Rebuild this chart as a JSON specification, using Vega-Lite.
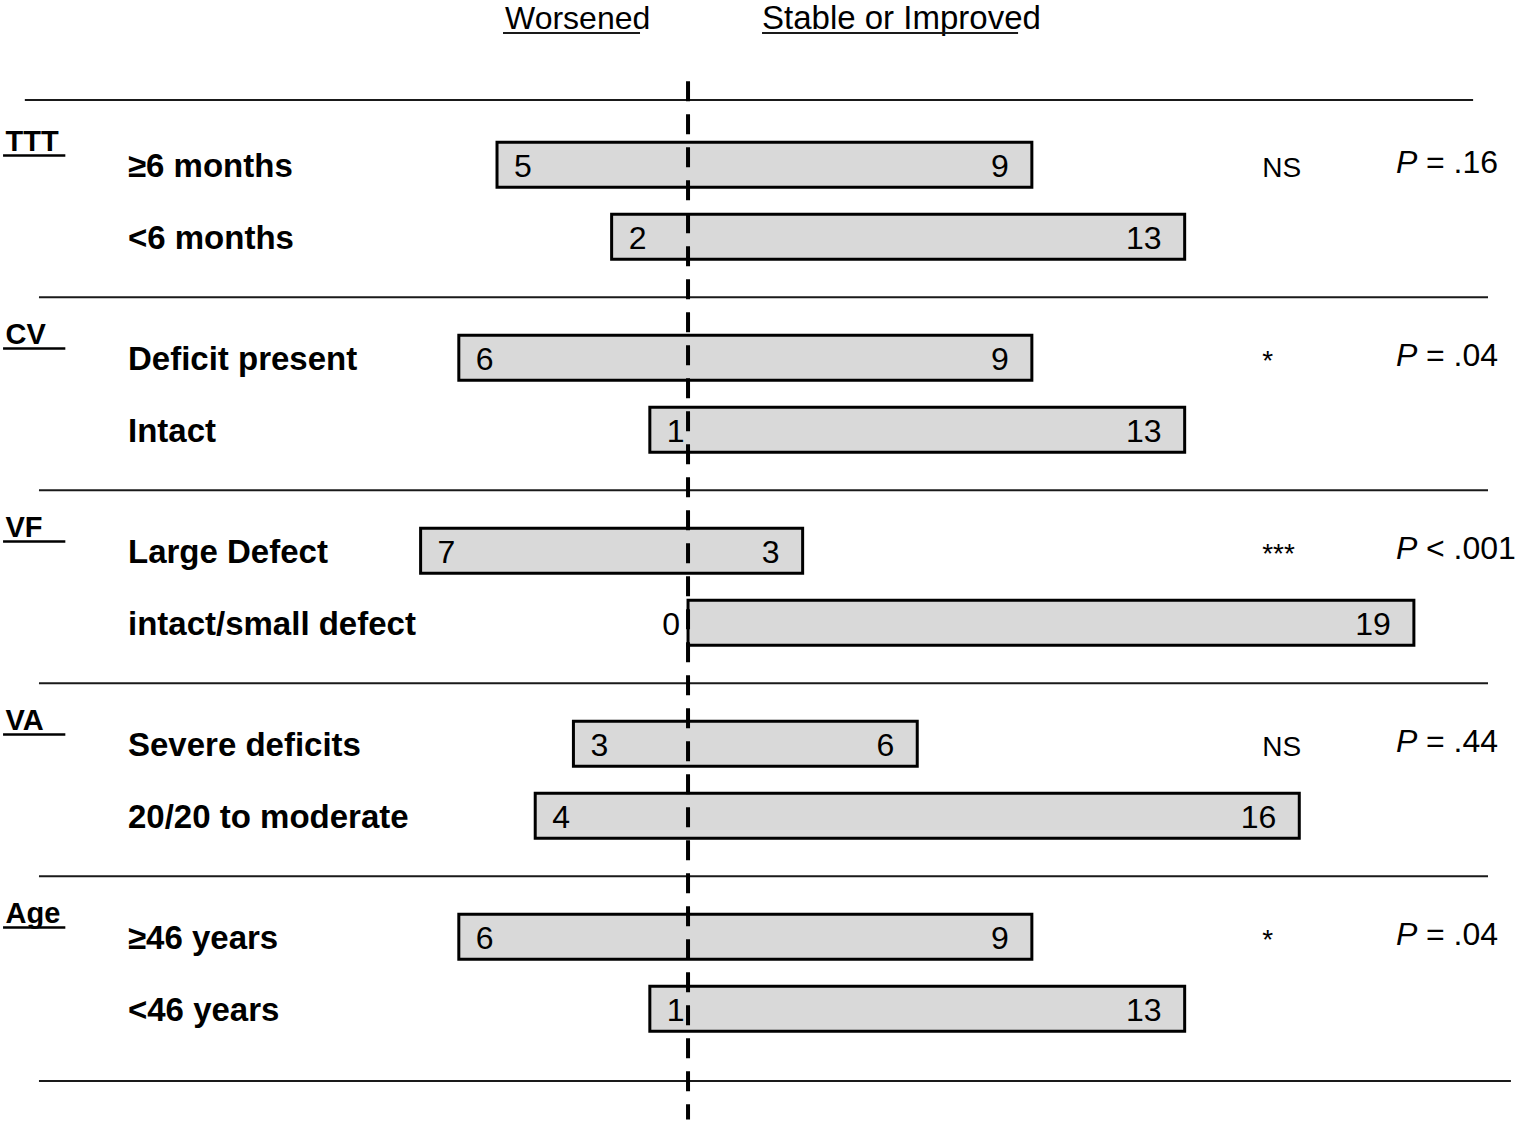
{
  "$schema": "https://vega.github.io/schema/vega-lite/v6.json",
  "width": 1522,
  "height": 1126,
  "autosize": {"type": "none"},
  "padding": 0,
  "background": "white",
  "config": {
    "view": {"stroke": null},
    "font": "Liberation Sans",
    "text": {"font": "Liberation Sans", "color": "black"}
  },
  "datasets": {
    "counts": [
      {"group": "TTT", "row": 1, "subgroup": "≥6 months", "worsened": 5, "improved": 9},
      {"group": "TTT", "row": 2, "subgroup": "<6 months", "worsened": 2, "improved": 13},
      {"group": "CV", "row": 1, "subgroup": "Deficit present", "worsened": 6, "improved": 9},
      {"group": "CV", "row": 2, "subgroup": "Intact", "worsened": 1, "improved": 13},
      {"group": "VF", "row": 1, "subgroup": "Large Defect", "worsened": 7, "improved": 3},
      {"group": "VF", "row": 2, "subgroup": "intact/small defect", "worsened": 0, "improved": 19},
      {"group": "VA", "row": 1, "subgroup": "Severe deficits", "worsened": 3, "improved": 6},
      {"group": "VA", "row": 2, "subgroup": "20/20 to moderate", "worsened": 4, "improved": 16},
      {"group": "Age", "row": 1, "subgroup": "≥46 years", "worsened": 6, "improved": 9},
      {"group": "Age", "row": 2, "subgroup": "<46 years", "worsened": 1, "improved": 13}
    ],
    "tests": [
      {"group": "TTT", "sig": "NS", "p": "= .16"},
      {"group": "CV", "sig": "*", "p": "= .04"},
      {"group": "VF", "sig": "***", "p": "< .001"},
      {"group": "VA", "sig": "NS", "p": "= .44"},
      {"group": "Age", "sig": "*", "p": "= .04"}
    ],
    "headers": [
      {"side": "Worsened"},
      {"side": "Stable or Improved"}
    ]
  },
  "layer": [
    {
      "data": {"name": "counts"},
      "transform": [{"calculate": "-datum.worsened", "as": "neg"}],
      "mark": {"type": "bar", "fill": "#d9d9d9", "stroke": "black", "strokeWidth": 3},
      "encoding": {
        "x": {
          "field": "neg",
          "type": "quantitative",
          "scale": {"domain": [-18.01, 21.83], "nice": false, "zero": false},
          "axis": null
        },
        "x2": {"field": "improved"},
        "y": {
          "field": "group",
          "type": "nominal",
          "sort": ["TTT", "CV", "VF", "VA", "Age"],
          "scale": {
            "domain": ["TTT", "CV", "VF", "VA", "Age"],
            "paddingInner": 0,
            "paddingOuter": 0.417,
            "align": 0.648
          },
          "axis": {
            "title": null,
            "domain": false,
            "ticks": false,
            "tickSize": 0,
            "grid": false,
            "labelAlign": "left",
            "labelPadding": -5,
            "labelOffset": -50,
            "labelBaseline": "alphabetic",
            "labelFont": "Liberation Sans",
            "labelFontSize": 29,
            "labelFontWeight": "bold",
            "labelColor": "black"
          }
        },
        "yOffset": {
          "field": "row",
          "type": "ordinal",
          "scale": {"paddingInner": 0.375, "paddingOuter": 0.528}
        }
      }
    },
    {
      "data": {"name": "tests"},
      "mark": {"type": "rule", "stroke": "black", "strokeWidth": 2.5},
      "encoding": {
        "y": {"field": "group", "type": "nominal", "bandPosition": 0.265},
        "x": {"datum": -17.93},
        "x2": {"datum": -16.3}
      }
    },
    {
      "data": {"name": "tests"},
      "transform": [{"filter": "datum.group !== 'TTT'"}],
      "mark": {"type": "rule", "stroke": "#1a1a1a", "strokeWidth": 2},
      "encoding": {
        "y": {"field": "group", "type": "nominal", "bandPosition": 0},
        "x": {"datum": -16.99},
        "x2": {"datum": 20.94}
      }
    },
    {
      "data": {"name": "tests"},
      "transform": [{"filter": "datum.group === 'TTT'"}],
      "mark": {"type": "rule", "stroke": "#1a1a1a", "strokeWidth": 2},
      "encoding": {
        "y": {"field": "group", "type": "nominal", "bandPosition": -0.022},
        "x": {"datum": -17.36},
        "x2": {"datum": 20.55}
      }
    },
    {
      "data": {"name": "tests"},
      "transform": [{"filter": "datum.group === 'Age'"}],
      "mark": {"type": "rule", "stroke": "#1a1a1a", "strokeWidth": 2},
      "encoding": {
        "y": {"field": "group", "type": "nominal", "bandPosition": 1.06},
        "x": {"datum": -16.99},
        "x2": {"datum": 21.54}
      }
    },
    {
      "data": {"values": [{"line": "no change"}]},
      "mark": {"type": "rule", "stroke": "black", "strokeWidth": 4, "strokeDash": [20, 13]},
      "encoding": {
        "x": {"datum": 0},
        "y": {"datum": "TTT", "bandPosition": -0.12},
        "y2": {"datum": "Age", "bandPosition": 1.26}
      }
    },
    {
      "data": {"name": "counts"},
      "mark": {"type": "text", "align": "left", "baseline": "middle", "fontSize": 33, "fontWeight": "bold", "dy": 2},
      "encoding": {
        "x": {"datum": -14.66},
        "y": {"field": "group", "type": "nominal"},
        "yOffset": {"field": "row", "type": "ordinal"},
        "text": {"field": "subgroup"}
      }
    },
    {
      "data": {"name": "counts"},
      "transform": [
        {"calculate": "-datum.worsened", "as": "neg"},
        {"filter": "datum.worsened > 0"}
      ],
      "mark": {"type": "text", "align": "left", "baseline": "middle", "fontSize": 32, "dx": 17, "dy": 2},
      "encoding": {
        "x": {"field": "neg", "type": "quantitative"},
        "y": {"field": "group", "type": "nominal"},
        "yOffset": {"field": "row", "type": "ordinal"},
        "text": {"field": "worsened"}
      }
    },
    {
      "data": {"name": "counts"},
      "transform": [
        {"calculate": "-datum.worsened", "as": "neg"},
        {"filter": "datum.worsened === 0"}
      ],
      "mark": {"type": "text", "align": "right", "baseline": "middle", "fontSize": 32, "dx": -8, "dy": 2},
      "encoding": {
        "x": {"field": "neg", "type": "quantitative"},
        "y": {"field": "group", "type": "nominal"},
        "yOffset": {"field": "row", "type": "ordinal"},
        "text": {"field": "worsened"}
      }
    },
    {
      "data": {"name": "counts"},
      "mark": {"type": "text", "align": "right", "baseline": "middle", "fontSize": 32, "dx": -23, "dy": 2},
      "encoding": {
        "x": {"field": "improved", "type": "quantitative"},
        "y": {"field": "group", "type": "nominal"},
        "yOffset": {"field": "row", "type": "ordinal"},
        "text": {"field": "improved"}
      }
    },
    {
      "data": {"name": "tests"},
      "mark": {"type": "text", "align": "left", "baseline": "middle", "fontSize": 28, "dy": 4},
      "encoding": {
        "x": {"datum": 15.03},
        "y": {"field": "group", "type": "nominal"},
        "yOffset": {"datum": 1, "type": "ordinal"},
        "text": {"field": "sig"}
      }
    },
    {
      "data": {"name": "tests"},
      "mark": {"type": "text", "align": "left", "baseline": "middle", "fontSize": 32, "fontStyle": "italic", "dy": -2},
      "encoding": {
        "x": {"datum": 18.53},
        "y": {"field": "group", "type": "nominal"},
        "yOffset": {"datum": 1, "type": "ordinal"},
        "text": {"value": "P"}
      }
    },
    {
      "data": {"name": "tests"},
      "mark": {"type": "text", "align": "left", "baseline": "middle", "fontSize": 32, "dx": 30, "dy": -2},
      "encoding": {
        "x": {"datum": 18.53},
        "y": {"field": "group", "type": "nominal"},
        "yOffset": {"datum": 1, "type": "ordinal"},
        "text": {"field": "p"}
      }
    },
    {
      "data": {"name": "headers"},
      "transform": [{"filter": "datum.side === 'Worsened'"}],
      "mark": {"type": "text", "align": "left", "baseline": "alphabetic", "fontSize": 32},
      "encoding": {
        "x": {"datum": -4.79},
        "y": {"datum": "TTT", "bandPosition": -0.3927},
        "text": {"field": "side"}
      }
    },
    {
      "data": {"name": "headers"},
      "transform": [{"filter": "datum.side !== 'Worsened'"}],
      "mark": {"type": "text", "align": "left", "baseline": "alphabetic", "fontSize": 33},
      "encoding": {
        "x": {"datum": 1.937},
        "y": {"datum": "TTT", "bandPosition": -0.3927},
        "text": {"field": "side"}
      }
    },
    {
      "data": {"name": "headers"},
      "transform": [{"filter": "datum.side === 'Worsened'"}],
      "mark": {"type": "rule", "stroke": "#1a1a1a", "strokeWidth": 2},
      "encoding": {
        "x": {"datum": -4.843},
        "x2": {"datum": -1.257},
        "y": {"datum": "TTT", "bandPosition": -0.3694}
      }
    },
    {
      "data": {"name": "headers"},
      "transform": [{"filter": "datum.side !== 'Worsened'"}],
      "mark": {"type": "rule", "stroke": "#1a1a1a", "strokeWidth": 2},
      "encoding": {
        "x": {"datum": 1.937},
        "x2": {"datum": 8.639},
        "y": {"datum": "TTT", "bandPosition": -0.3694}
      }
    }
  ]
}
